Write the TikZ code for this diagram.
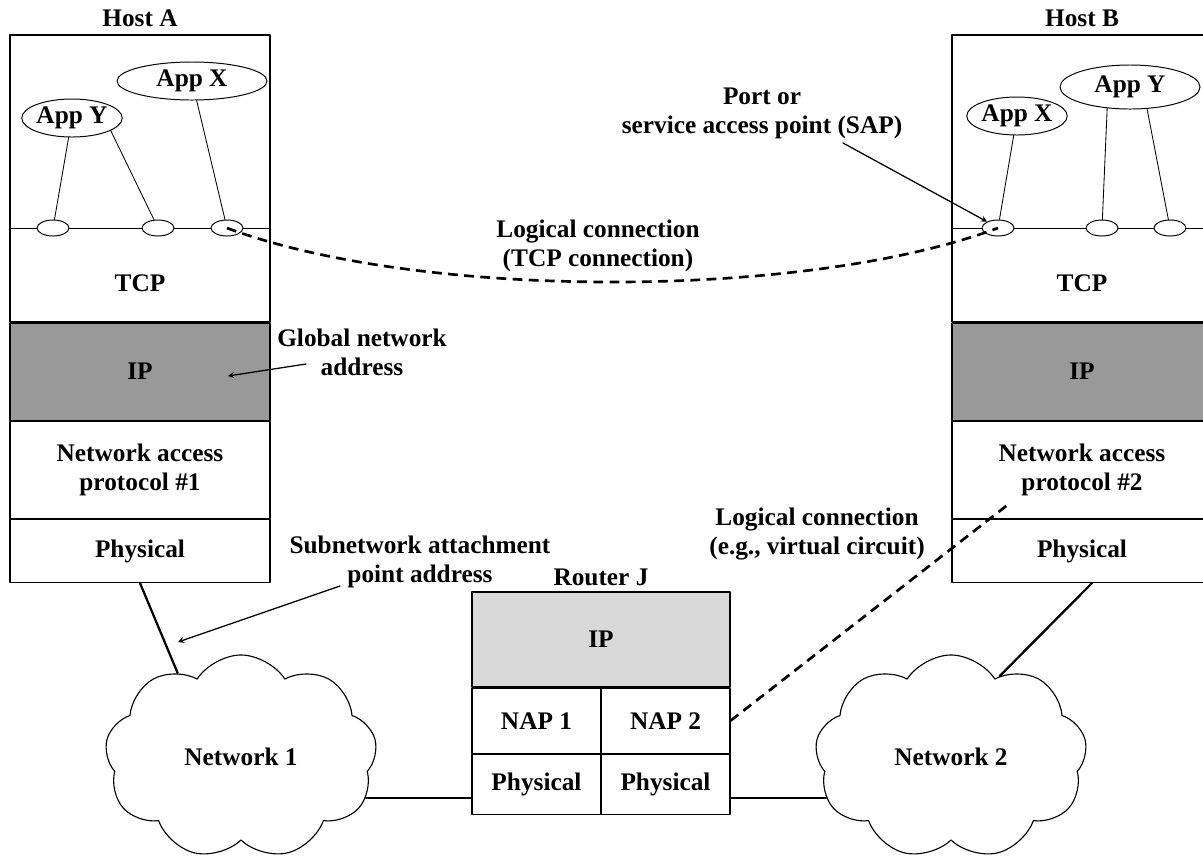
\documentclass[tikz,border=0pt]{standalone}
\usepackage{fontspec}
\setmainfont{Liberation Serif}
\usetikzlibrary{positioning,shapes.geometric,shapes.symbols}
\newcommand{\lblfont}{\bfseries\fontsize{18}{20.5}\selectfont}

\begin{document}
\begin{tikzpicture}[x=0.025cm, y=-0.025cm, line cap=round, line join=round, font=\lblfont, >=stealth]
  \tikzset{
    layer/.style={draw, line width=0.8pt, minimum width=6.5cm, inner sep=0pt, align=center},
    half/.style={draw, line width=0.8pt, minimum width=3.225cm, inner sep=0pt, align=center},
    hostip/.style={fill=black!40},
    routerip/.style={fill=black!15},
    app/.style={ellipse, draw, line width=0.7pt, inner sep=0pt, minimum height=0.95cm},
    port/.style={ellipse, draw, fill=white, line width=0.7pt, inner sep=0pt, minimum width=0.8cm, minimum height=0.4cm},
    txt/.style={align=center, inner sep=0pt},
    link/.style={line width=1.6pt},
    thinlink/.style={line width=0.6pt},
    logical/.style={line width=1.9pt, dash pattern=on 7pt off 4.5pt, line cap=butt},
    pointer/.style={->, line width=0.9pt},
    net/.style={cloud, cloud puffs=9, cloud puff arc=115, aspect=1.3, draw, line width=0.8pt, fill=white, minimum width=6.8cm, minimum height=5.1cm}
  }
  \useasboundingbox (0,0) rectangle (1203,858);

  % Host A
  \node[layer, minimum height=7.175cm] (aupper) at (140,178.5) {};
  \node[layer, hostip, minimum height=2.425cm, below=0pt of aupper] (aip) {IP};
  \node[layer, minimum height=2.425cm, below=0pt of aip] (anap) {Network access\\protocol \#1};
  \node[layer, minimum height=1.575cm, below=0pt of anap] (aphys) {Physical};
  \node[txt, above=5pt of aupper] (ahost) {Host A};
  \node[txt] (atcp) at (140,283) {TCP};
  \draw[thinlink] (aupper.west |- 0,228) -- (aupper.east |- 0,228);
  \node[app, minimum width=2.15cm] (aappy) at (72,118) {App Y};
  \node[app, minimum width=3.75cm] (aappx) at (192,81) {App X};
  \node[port] (ap1) at (53,228) {};
  \node[port] (ap2) at (158,228) {};
  \node[port] (ap3) at (227,228) {};
  \draw[thinlink] (aappy) -- (ap1);
  \draw[thinlink] (aappy.-18) -- (ap2);
  \draw[thinlink] (aappx) -- (ap3);

  % Host B
  \node[layer, minimum height=7.175cm] (bupper) at (1082,178.5) {};
  \node[layer, hostip, minimum height=2.425cm, below=0pt of bupper] (bip) {IP};
  \node[layer, minimum height=2.425cm, below=0pt of bip] (bnap) {Network access\\protocol \#2};
  \node[layer, minimum height=1.575cm, below=0pt of bnap] (bphys) {Physical};
  \node[txt, above=5pt of bupper] (bhost) {Host B};
  \node[txt] (btcp) at (1082,283) {TCP};
  \draw[thinlink] (bupper.west |- 0,228) -- (bupper.east |- 0,228);
  \node[app, minimum width=2.2cm] (bappx) at (1017,116) {App X};
  \node[app, minimum width=3.5cm, minimum height=1.1cm] (bappy) at (1130,87) {App Y};
  \node[port] (bp1) at (998,228) {};
  \node[port] (bp2) at (1102,228) {};
  \node[port] (bp3) at (1170,228) {};
  \draw[thinlink] (bappx) -- (bp1);
  \draw[thinlink] (bappy.223) -- (bp2);
  \draw[thinlink] (bappy.308) -- (bp3);

  % Router J
  \node[layer, routerip, minimum width=6.45cm, minimum height=2.375cm] (rip) at (601,639.5) {IP};
  \node[half, minimum height=1.625cm, below right=0pt of rip.south west] (rnap1) {NAP 1};
  \node[half, minimum height=1.625cm, below left=0pt of rip.south east] (rnap2) {NAP 2};
  \node[half, minimum height=1.5cm, below=0pt of rnap1] (rphys1) {Physical};
  \node[half, minimum height=1.5cm, below=0pt of rnap2] (rphys2) {Physical};
  \node[txt, above=4pt of rip] (rlbl) {Router J};

  % networks
  \node[net] (net1) at (241,757) {Network 1};
  \node[net] (net2) at (951,757) {Network 2};
  \draw[link] (aphys.south) -- (net1.127);
  \draw[link] ([xshift=0.25cm]bphys.south) -- (net2.59);
  \draw[link] (net1.-18) -- (net1.-18 -| rphys1.west);
  \draw[link] (net2.198) -- (net2.198 -| rphys2.east);

  % logical connections
  \coordinate (vcend) at (1010,503);
  \draw[logical] (ap3.center) .. controls (420,300) and (805,300) .. (bp1.center);
  \draw[logical] (rnap2.east) -- (vcend);

  % labels and pointers
  \node[txt] (tcplbl) at (598,246) {Logical connection\\(TCP connection)};
  \node[txt] (saplbl) at (762,113) {Port or\\service access point (SAP)};
  \node[txt] (gnalbl) at (362,352) {Global network\\address};
  \node[txt] (snalbl) at (420,562) {Subnetwork attachment\\point address};
  \node[txt] (vclbl) at (817,534) {Logical connection\\(e.g., virtual circuit)};
  \coordinate (saptail) at (843,143);
  \coordinate (gnatail) at (306,364);
  \coordinate (gnahead) at (228,376);
  \coordinate (snatail) at (340,586);
  \coordinate (snahead) at (178,642);
  \draw[pointer] (saptail) -- (bp1.150);
  \draw[pointer] (gnatail) -- (gnahead);
  \draw[pointer] (snatail) -- (snahead);
\end{tikzpicture}
\end{document}
